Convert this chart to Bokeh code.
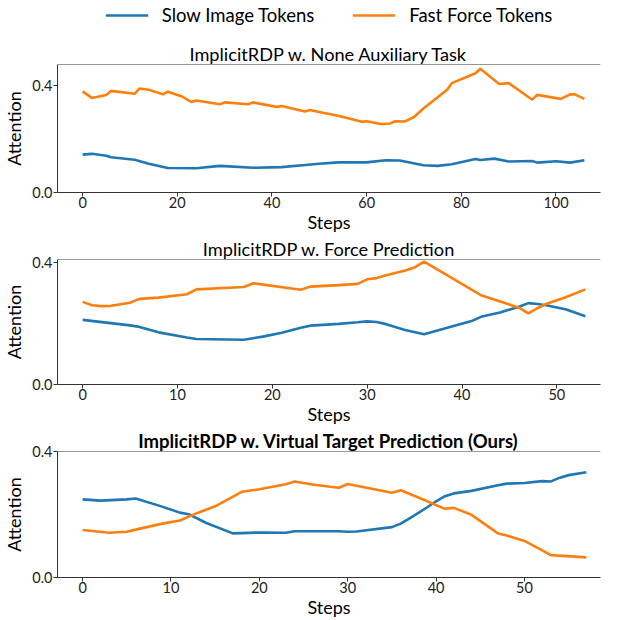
from bokeh.plotting import figure
from bokeh.models import Legend, LegendItem, FixedTicker, Range1d, Span, NumeralTickFormatter
from bokeh.layouts import column
from bokeh.embed import file_html
from bokeh.resources import INLINE

FONT = "Lato"
BLUE = "#1f77b4"
ORANGE = "#ff7f0e"

series_labels = ["Slow Image Tokens", "Fast Force Tokens"]
titles = ["ImplicitRDP w. None Auxiliary Task",
          "ImplicitRDP w. Force Prediction",
          "ImplicitRDP w. Virtual Target Prediction (Ours)"]

# Panel 1: None auxiliary task
steps1_slow = [0, 2, 5, 6, 11, 14, 18, 24, 29, 36, 42, 47, 50, 54, 60, 64, 67, 72, 75, 78, 83, 84, 87, 90, 95, 96, 100, 103, 106]
slow1 = [0.142, 0.145, 0.138, 0.132, 0.123, 0.108, 0.092, 0.091, 0.100, 0.093, 0.095, 0.103, 0.108, 0.113, 0.113, 0.121, 0.120, 0.102, 0.100, 0.106, 0.126, 0.122, 0.127, 0.116, 0.118, 0.112, 0.117, 0.112, 0.121]
steps1_fast = [0, 2, 5, 6, 11, 12, 14, 17, 18, 21, 23, 24, 29, 30, 35, 36, 41, 42, 47, 48, 51, 54, 59, 60, 63, 65, 66, 68, 70, 72, 77, 78, 83, 84, 88, 90, 95, 96, 101, 103, 104, 106]
fast1 = [0.379, 0.354, 0.366, 0.381, 0.370, 0.390, 0.385, 0.368, 0.378, 0.360, 0.339, 0.345, 0.331, 0.338, 0.331, 0.338, 0.321, 0.324, 0.304, 0.309, 0.298, 0.288, 0.265, 0.267, 0.257, 0.259, 0.267, 0.266, 0.283, 0.315, 0.385, 0.410, 0.447, 0.464, 0.407, 0.410, 0.348, 0.366, 0.351, 0.368, 0.368, 0.351]

# Panel 2: Force prediction
steps2_slow = [0, 5, 6, 8, 11, 12, 17, 19, 21, 23, 24, 27, 29, 30, 31, 32, 34, 36, 41, 42, 44, 46, 47, 48, 49, 51, 53]
slow2 = [0.212, 0.194, 0.189, 0.171, 0.154, 0.149, 0.147, 0.157, 0.170, 0.186, 0.193, 0.199, 0.204, 0.207, 0.205, 0.198, 0.179, 0.165, 0.208, 0.222, 0.236, 0.255, 0.267, 0.264, 0.259, 0.246, 0.224]
steps2_fast = [0, 1, 2, 3, 5, 6, 8, 11, 12, 17, 18, 23, 24, 27, 29, 30, 31, 32, 34, 35, 36, 41, 42, 46, 47, 48, 49, 51, 53]
fast2 = [0.271, 0.260, 0.257, 0.258, 0.268, 0.281, 0.285, 0.296, 0.312, 0.320, 0.332, 0.311, 0.321, 0.326, 0.330, 0.345, 0.349, 0.358, 0.374, 0.384, 0.403, 0.311, 0.293, 0.252, 0.233, 0.251, 0.266, 0.287, 0.312]

# Panel 3: Virtual target prediction (ours)
steps3_slow = [0, 2, 5, 6, 9, 11, 12, 14, 17, 18, 20, 23, 24, 27, 29, 30, 31, 35, 36, 37, 38, 39, 40, 41, 42, 44, 47, 48, 50, 52, 53, 54, 55, 57]
slow3 = [0.248, 0.244, 0.248, 0.251, 0.225, 0.206, 0.201, 0.173, 0.140, 0.141, 0.143, 0.142, 0.147, 0.147, 0.147, 0.145, 0.146, 0.160, 0.171, 0.188, 0.205, 0.223, 0.242, 0.258, 0.267, 0.275, 0.293, 0.298, 0.300, 0.306, 0.305, 0.317, 0.325, 0.334]
steps3_fast = [0, 3, 5, 6, 9, 11, 13, 15, 18, 20, 23, 24, 26, 28, 29, 30, 35, 36, 38, 41, 42, 44, 47, 48, 50, 53, 57]
fast3 = [0.151, 0.142, 0.145, 0.152, 0.171, 0.181, 0.205, 0.226, 0.272, 0.280, 0.296, 0.305, 0.295, 0.288, 0.285, 0.297, 0.269, 0.277, 0.254, 0.218, 0.221, 0.199, 0.140, 0.133, 0.116, 0.071, 0.064]

y_ticks = [0.0, 0.4]
x_ticks1 = [0, 20, 40, 60, 80, 100]
x_ticks23 = [0, 10, 20, 30, 40, 50]


def make_panel(title, bold, xs, ys, xf, yf, xr, ytop, xticks, height, top, bottom):
    p = figure(width=640, height=height, output_backend="svg", toolbar_location=None,
               x_range=Range1d(*xr), y_range=Range1d(0, ytop), title=title,
               min_border_left=56, min_border_right=0, min_border_top=top, min_border_bottom=bottom)
    p.outline_line_color = None
    p.xgrid.visible = False
    p.ygrid.visible = False
    p.title.align = "center"
    p.title.text_font = FONT
    p.title.text_font_size = "18.5px" if bold else "18.2px"
    p.title.text_font_style = "bold" if bold else "normal"
    p.title.text_color = "black"
    p.title.standoff = 0
    p.line(xs, ys, color=BLUE, line_width=2.6)
    p.line(xf, yf, color=ORANGE, line_width=2.6)
    p.add_layout(Span(location=ytop, dimension="width", line_color="#333333", line_width=1))
    for ax in (p.xaxis[0], p.yaxis[0]):
        ax.major_tick_out = 4
        ax.major_tick_in = 0
        ax.minor_tick_line_color = None
        ax.axis_line_color = "#333333"
        ax.major_tick_line_color = "#333333"
        ax.major_label_text_font = FONT
        ax.major_label_text_font_size = "14.5px"
        ax.major_label_text_color = "#222222"
        ax.axis_label_text_font = FONT
        ax.axis_label_text_font_size = "18px"
        ax.axis_label_text_font_style = "normal"
        ax.axis_label_text_color = "black"
    p.xaxis.major_label_standoff = 0
    p.xaxis.axis_label_standoff = 0
    p.yaxis.major_label_standoff = 1
    p.yaxis.axis_label_standoff = 4
    p.xaxis.axis_label = "Steps"
    p.yaxis.axis_label = "Attention"
    p.xaxis.ticker = FixedTicker(ticks=xticks)
    p.yaxis.ticker = FixedTicker(ticks=y_ticks)
    p.yaxis.formatter = NumeralTickFormatter(format="0.0")
    return p


pl = figure(width=640, height=30, output_backend="svg", toolbar_location=None,
            x_range=Range1d(0, 1), y_range=Range1d(0, 1), x_axis_type=None, y_axis_type=None,
            min_border=0, min_border_right=40)
pl.outline_line_color = None
pl.xgrid.visible = False
pl.ygrid.visible = False
r1 = pl.line(x=[-10, -9], y=[-10, -10], color=BLUE, line_width=2.6)
r2 = pl.line(x=[-10, -9], y=[-10, -10], color=ORANGE, line_width=2.6)
legend = Legend(items=[LegendItem(label=series_labels[0], renderers=[r1]),
                       LegendItem(label=series_labels[1], renderers=[r2])],
                orientation="horizontal", location="center",
                label_text_font=FONT, label_text_font_size="18.5px", label_text_color="black",
                glyph_width=43, glyph_height=20, label_standoff=14, spacing=38,
                padding=0, margin=0, border_line_color=None, background_fill_alpha=0)
pl.add_layout(legend, "center")

p1 = make_panel(titles[0], False, steps1_slow, slow1, steps1_fast, fast1,
                (-5.3, 109.4), 0.48, x_ticks1, 205, 34, 42)
p2 = make_panel(titles[1], False, steps2_slow, slow2, steps2_fast, fast2,
                (-2.65, 54.6), 0.41, x_ticks23, 192, 24, 42)
p3 = make_panel(titles[2], True, steps3_slow, slow3, steps3_fast, fast3,
                (-2.84, 58.6), 0.40, x_ticks23, 193, 24, 42)

layout = column(pl, p1, p2, p3)
open("out.html", "w").write(file_html(layout, INLINE))
